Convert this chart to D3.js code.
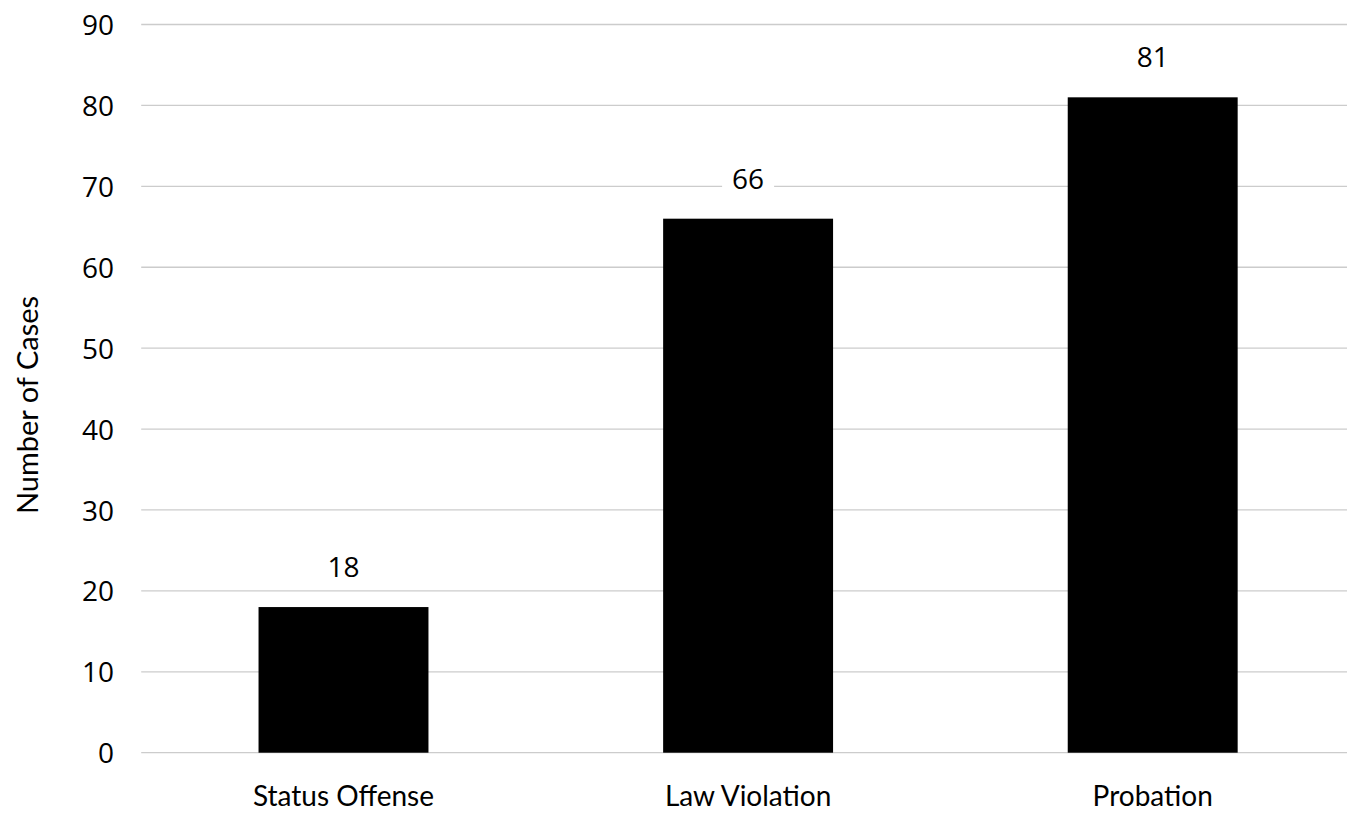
<!DOCTYPE html>
<html>
<head>
<meta charset="utf-8">
<script src="https://cdn.jsdelivr.net/npm/d3@7/dist/d3.min.js"></script>
<style>
  html, body { margin: 0; padding: 0; background: #fff; overflow: hidden; }
  svg { display: block; }
</style>
</head>
<body>
<svg id="chart" width="1347" height="814"></svg>
<script>
const categories = ["Status Offense", "Law Violation", "Probation"];
const values = [18, 66, 81];
const yTicks = [0, 10, 20, 30, 40, 50, 60, 70, 80, 90];
const yTitle = "Number of Cases";

const svg = d3.select("#chart");
const plotLeft = 141.2, plotRight = 1355, plotTop = 24.5, plotBottom = 752.7;

const x = d3.scaleBand().domain(categories).range([plotLeft, plotRight])
  .paddingInner(0.58).paddingOuter(0.29);
const y = d3.scaleLinear().domain([0, 90]).range([plotBottom, plotTop]);

const numFont = "'Open Sans', 'Noto Sans', sans-serif";
const catFont = "Lato, 'Noto Sans', sans-serif";

// gridlines
svg.append("g").selectAll("line").data(yTicks).join("line")
  .attr("x1", plotLeft).attr("x2", 1347)
  .attr("y1", d => y(d)).attr("y2", d => y(d))
  .attr("stroke", "#cccccc").attr("stroke-width", 1.3);

// y axis labels
const yAxis = d3.axisLeft(y).tickValues(yTicks).tickSize(0).tickPadding(0);
const gy = svg.append("g").attr("transform", `translate(114,0)`).call(yAxis);
gy.select(".domain").remove();
gy.selectAll("text").attr("font-family", numFont).attr("font-size", 28)
  .attr("fill", "#000").attr("dy", "0.36em");

// bars
svg.append("g").selectAll("rect").data(values).join("rect")
  .attr("x", (d, i) => x(categories[i]))
  .attr("width", x.bandwidth())
  .attr("y", d => y(d))
  .attr("height", d => y(0) - y(d))
  .attr("fill", "#000");

// data labels with white background
const lbl = svg.append("g").selectAll("g").data(values).join("g")
  .attr("transform", (d, i) => `translate(${x(categories[i]) + x.bandwidth() / 2},${y(d) - 30})`);
lbl.append("rect").attr("x", -26).attr("y", -26).attr("width", 52).attr("height", 32).attr("fill", "#fff");
lbl.append("text").attr("text-anchor", "middle").attr("font-family", numFont)
  .attr("font-size", 28).attr("fill", "#000").text(d => d);

// x axis labels
const xAxis = d3.axisBottom(x).tickSize(0).tickPadding(0);
const gx = svg.append("g").attr("transform", `translate(0,806)`).call(xAxis);
gx.select(".domain").remove();
gx.selectAll("text").attr("font-family", catFont).attr("font-size", 28)
  .attr("fill", "#000").attr("dy", 0);

// y title
svg.append("text")
  .attr("transform", "translate(38,405) rotate(-90)")
  .attr("text-anchor", "middle")
  .attr("font-family", catFont).attr("font-size", 29).attr("fill", "#000")
  .text(yTitle);
</script>
</body>
</html>
